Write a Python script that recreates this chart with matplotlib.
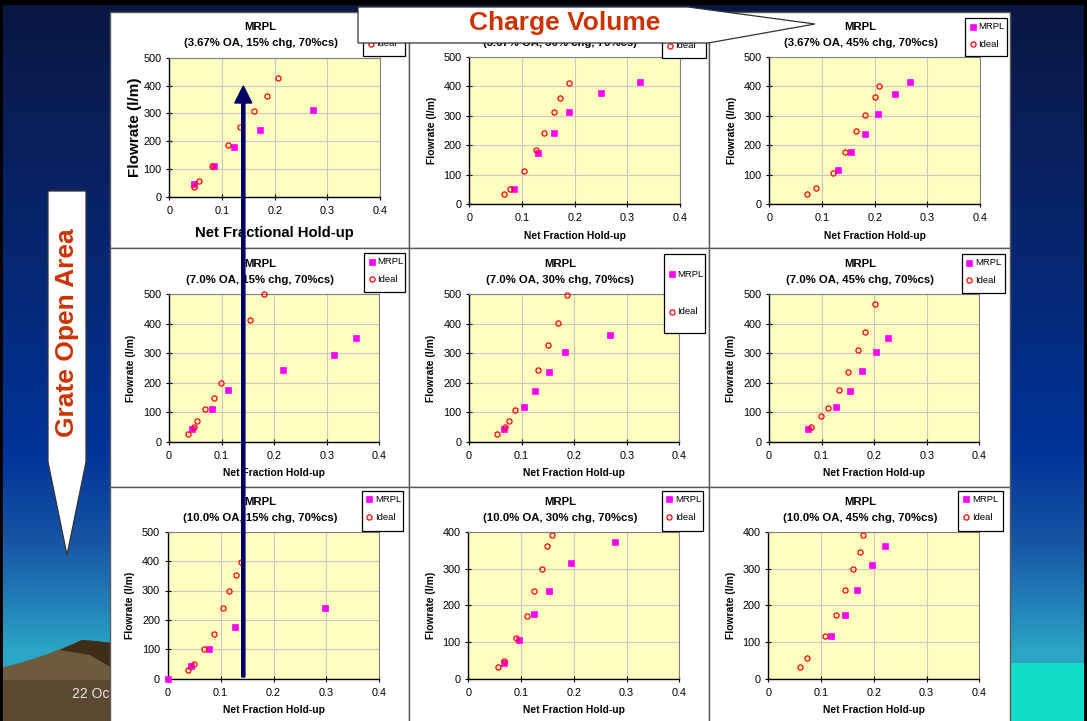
import numpy as np
import matplotlib
matplotlib.use("Agg")
import matplotlib.pyplot as plt
from matplotlib.patches import Rectangle, Polygon, FancyArrow

plt.rcParams['font.family'] = ['Liberation Sans', 'DejaVu Sans']

W, H = 1087, 721

# ---------------- data ----------------
oa_levels = ['3.67% OA', '7.0% OA', '10.0% OA']
chg_levels = ['15% chg', '30% chg', '45% chg']
cs_level = '70%cs'
series_names = ['MRPL', 'Ideal']

x_ticks = [0, 0.1, 0.2, 0.3, 0.4]
x_tick_labels = ['0', '0.1', '0.2', '0.3', '0.4']
y_max = [[500, 500, 500], [500, 500, 500], [500, 400, 400]]

# 3.67% OA
mrpl_x_11 = [0.047, 0.085, 0.123, 0.172, 0.273]
mrpl_y_11 = [46, 110, 181, 242, 311]
ideal_x_11 = [0.047, 0.057, 0.082, 0.111, 0.135, 0.161, 0.185, 0.206]
ideal_y_11 = [36, 56, 110, 187, 251, 307, 361, 426]

mrpl_x_12 = [0.084, 0.130, 0.160, 0.190, 0.250, 0.325]
mrpl_y_12 = [52, 175, 243, 313, 378, 413]
ideal_x_12 = [0.066, 0.078, 0.103, 0.127, 0.142, 0.160, 0.173, 0.190]
ideal_y_12 = [34, 52, 113, 183, 243, 312, 359, 411]

mrpl_x_13 = [0.130, 0.155, 0.182, 0.207, 0.239, 0.267]
mrpl_y_13 = [115, 178, 239, 306, 373, 413]
ideal_x_13 = [0.071, 0.089, 0.120, 0.144, 0.164, 0.182, 0.201, 0.208]
ideal_y_13 = [34, 56, 106, 178, 248, 303, 362, 400]

# 7.0% OA
mrpl_x_21 = [0.044, 0.081, 0.112, 0.217, 0.314, 0.355]
mrpl_y_21 = [43, 110, 175, 243, 293, 353]
ideal_x_21 = [0.036, 0.047, 0.054, 0.068, 0.085, 0.098, 0.154, 0.180]
ideal_y_21 = [27, 50, 69, 110, 148, 199, 414, 500]

mrpl_x_22 = [0.067, 0.104, 0.126, 0.152, 0.183, 0.268]
mrpl_y_22 = [43, 117, 173, 236, 304, 361]
ideal_x_22 = [0.053, 0.068, 0.077, 0.088, 0.132, 0.150, 0.170, 0.186]
ideal_y_22 = [27, 50, 71, 108, 243, 327, 403, 498]

mrpl_x_23 = [0.075, 0.127, 0.155, 0.177, 0.204, 0.227]
mrpl_y_23 = [43, 119, 173, 240, 303, 351]
ideal_x_23 = [0.080, 0.099, 0.113, 0.134, 0.150, 0.170, 0.183, 0.202]
ideal_y_23 = [50, 87, 115, 177, 236, 312, 372, 468]

# 10.0% OA
mrpl_x_31 = [0.0, 0.044, 0.079, 0.127, 0.297]
mrpl_y_31 = [0, 43, 102, 176, 239]
ideal_x_31 = [0.038, 0.049, 0.069, 0.088, 0.104, 0.116, 0.129, 0.139]
ideal_y_31 = [30, 49, 102, 153, 239, 297, 354, 398]

mrpl_x_32 = [0.067, 0.096, 0.125, 0.153, 0.194, 0.279]
mrpl_y_32 = [43, 106, 176, 240, 316, 373]
ideal_x_32 = [0.056, 0.068, 0.091, 0.111, 0.125, 0.139, 0.149, 0.158]
ideal_y_32 = [31, 49, 111, 172, 238, 298, 362, 391]

mrpl_x_33 = [0.118, 0.146, 0.169, 0.196, 0.222]
mrpl_y_33 = [117, 174, 243, 309, 363]
ideal_x_33 = [0.060, 0.073, 0.107, 0.128, 0.145, 0.160, 0.173, 0.180]
ideal_y_33 = [31, 57, 116, 174, 243, 298, 345, 393]

mrpl_x = [[mrpl_x_11, mrpl_x_12, mrpl_x_13], [mrpl_x_21, mrpl_x_22, mrpl_x_23], [mrpl_x_31, mrpl_x_32, mrpl_x_33]]
mrpl_y = [[mrpl_y_11, mrpl_y_12, mrpl_y_13], [mrpl_y_21, mrpl_y_22, mrpl_y_23], [mrpl_y_31, mrpl_y_32, mrpl_y_33]]
ideal_x = [[ideal_x_11, ideal_x_12, ideal_x_13], [ideal_x_21, ideal_x_22, ideal_x_23], [ideal_x_31, ideal_x_32, ideal_x_33]]
ideal_y = [[ideal_y_11, ideal_y_12, ideal_y_13], [ideal_y_21, ideal_y_22, ideal_y_23], [ideal_y_31, ideal_y_32, ideal_y_33]]

# ---------------- layout (pixels, y measured from the top) ----------------
panel_cols = [(110, 409), (409, 709), (709, 1010)]
panel_rows = [(12, 248), (248, 487), (487, 730)]
plot_boxes = [
    [(169.3, 57.7, 380.0, 197.0), (469.3, 56.7, 680.0, 204.3), (769.3, 56.7, 980.0, 204.3)],
    [(169.0, 294.3, 379.3, 441.7), (469.0, 294.3, 679.3, 441.7), (769.0, 294.3, 979.3, 441.7)],
    [(167.7, 531.7, 379.3, 678.7), (468.3, 532.0, 679.3, 678.7), (768.3, 532.0, 979.3, 678.7)],
]
title_rows = [(26.7, 43.3), (264.0, 280.3), (501.7, 518.3)]
legend_boxes = [
    [(363.0, 18.0, 405.0, 56.0), (662.0, 20.0, 706.0, 58.0), (965.0, 18.3, 1006.7, 56.0)],
    [(364.0, 253.3, 405.3, 292.3), (664.0, 254.3, 705.0, 333.3), (961.7, 254.3, 1005.0, 293.3)],
    [(361.7, 491.0, 403.3, 531.0), (661.7, 491.0, 703.3, 531.0), (958.3, 491.0, 1003.3, 531.0)],
]

MAGENTA = '#ff00ff'
RED = '#ff0000'
ORANGE = '#cc3300'


def fx(x):
    return x / W


def fy(y):
    return 1 - y / H


fig = plt.figure(figsize=(W / 100, H / 100), dpi=100)

# ---------------- slide background ----------------
bg = fig.add_axes([0, 0, 1, 1], zorder=-5)
bg.set_xlim(0, W)
bg.set_ylim(H, 0)
bg.axis('off')

stop_y = [0, 120, 300, 450, 540, 605, 650, 721]
stop_c = ['#081640', '#0a1e58', '#05297a', '#003399', '#1654a4', '#2282b8', '#2aa6c4', '#2ab0c8']
rgb = np.array([matplotlib.colors.to_rgb(c) for c in stop_c])
rows = np.arange(H) + 0.5
grad = np.stack([np.interp(rows, stop_y, rgb[:, k]) for k in range(3)], axis=1)
bg.imshow(grad[:, None, :], extent=[0, W, H, 0], aspect='auto', zorder=0)

# cyan band at lower right
bg.add_patch(Rectangle((1008, 663), 80, 60, fc='#12dcc8', ec='none', zorder=1))
# hills at lower left
bg.add_patch(Polygon([(0, 668), (20, 663), (45, 655), (70, 645), (82, 640), (95, 641),
                      (112, 643), (112, 721), (0, 721)], closed=True, fc='#6e5a3c', ec='none', zorder=1))
bg.add_patch(Polygon([(60, 650), (82, 640), (95, 641), (112, 643), (112, 668), (90, 655)],
                     closed=True, fc='#3e2e18', ec='none', zorder=1))
bg.add_patch(Rectangle((0, 680), 112, 41, fc='#5a4830', ec='none', zorder=1))
bg.text(72, 694, '22 Oct', color='#e6e6e6', fontsize=10, va='center', ha='left', zorder=2)

# black slide frame
bg.add_patch(Rectangle((0, 0), W, 5, fc='black', ec='none', zorder=2))
bg.add_patch(Rectangle((0, 0), 3, H, fc='black', ec='none', zorder=2))
bg.add_patch(Rectangle((1084, 0), 3, H, fc='black', ec='none', zorder=2))

# white chart panels
for (r0, r1) in panel_rows:
    for (c0, c1) in panel_cols:
        bg.add_patch(Rectangle((c0, r0), c1 - c0, r1 - r0, fc='white', ec='#5a5a5a',
                               lw=1.0, zorder=3))

# ---------------- the nine charts ----------------
for r in range(3):
    for c in range(3):
        x0, y0, x1, y1 = plot_boxes[r][c]
        ax = fig.add_axes([fx(x0), fy(y1), fx(x1 - x0), (y1 - y0) / H], zorder=1)
        ax.set_facecolor('#ffffc0')
        ax.plot(mrpl_x[r][c], mrpl_y[r][c], ls='none', marker='s', ms=4.0,
                mfc=MAGENTA, mec=MAGENTA, mew=0.5, clip_on=False, zorder=3)
        ax.plot(ideal_x[r][c], ideal_y[r][c], ls='none', marker='o', ms=3.7,
                mfc='none', mec=RED, mew=0.9, clip_on=False, zorder=4)
        ax.set_xlim(0, 0.4)
        ax.set_ylim(0, y_max[r][c])
        ax.set_xticks(x_ticks)
        ax.set_xticklabels(x_tick_labels)
        ax.set_yticks(list(range(0, y_max[r][c] + 1, 100)))
        ax.grid(True, color='#c8c8c8', lw=0.8)
        ax.set_axisbelow(True)
        for s in ('top', 'right'):
            ax.spines[s].set_color('#808080')
            ax.spines[s].set_linewidth(0.8)
        for s in ('left', 'bottom'):
            ax.spines[s].set_color('black')
            ax.spines[s].set_linewidth(1.0)
        ax.tick_params(axis='both', direction='inout', length=4, width=0.8,
                       labelsize=7.8, colors='black')
        ax.tick_params(axis='y', pad=3.5)
        ax.tick_params(axis='x', pad=4.5)

        big = (r == 0 and c == 0)
        if big:
            ax.set_xlabel('Net Fractional Hold-up', fontsize=10.7, fontweight='bold', va='center')
            ax.set_ylabel('Flowrate (l/m)', fontsize=11, fontweight='bold', va='center')
            xl_y, yl_x = 232.7, 135.0
        else:
            ax.set_xlabel('Net Fraction Hold-up', fontsize=7.4, fontweight='bold', va='center')
            ax.set_ylabel('Flowrate (l/m)', fontsize=7.4, fontweight='bold', va='center')
            xl_y, yl_x = y1 + 31.5, x0 - 37.5
        ax.xaxis.set_label_coords(0.5, -(xl_y - y1) / (y1 - y0))
        ax.yaxis.set_label_coords(-(x0 - yl_x) / (x1 - x0), 0.5)

        # chart title
        cx = (panel_cols[c][0] + panel_cols[c][1]) / 2 + 1
        t1, t2 = title_rows[r]
        fig.text(fx(cx), fy(t1), 'MRPL', fontsize=8.2, fontweight='bold',
                 ha='center', va='center', zorder=2)
        fig.text(fx(cx), fy(t2), f'({oa_levels[r]}, {chg_levels[c]}, {cs_level})',
                 fontsize=8.2, fontweight='bold', ha='center', va='center', zorder=2)

# ---------------- legends ----------------
leg = fig.add_axes([0, 0, 1, 1], zorder=5)
leg.set_xlim(0, W)
leg.set_ylim(H, 0)
leg.axis('off')
for r in range(3):
    for c in range(3):
        lx0, ly0, lx1, ly1 = legend_boxes[r][c]
        leg.add_patch(Rectangle((lx0, ly0), lx1 - lx0, ly1 - ly0, fc='white', ec='black', lw=0.9))
        if r == 1 and c == 1:
            ys = [ly0 + 20.0, ly0 + 57.4]
        else:
            ys = [ly0 + 8.4, ly0 + 26.0]
        mx = lx0 + 7.7
        leg.plot([mx], [ys[0]], ls='none', marker='s', ms=4.0, mfc=MAGENTA, mec=MAGENTA, mew=0.5)
        leg.plot([mx], [ys[1]], ls='none', marker='o', ms=3.7, mfc='none', mec=RED, mew=0.9)
        for yy, name in zip(ys, series_names):
            leg.text(lx0 + 13.5, yy, name, fontsize=6.8, ha='left', va='center')

# ---------------- annotations ----------------
ov = fig.add_axes([0, 0, 1, 1], zorder=10)
ov.set_xlim(0, W)
ov.set_ylim(H, 0)
ov.axis('off')

# horizontal callout
ov.add_patch(Polygon([(358, 7), (688, 7), (815, 24), (708, 43), (358, 43)], closed=True,
                     fc='white', ec='#333333', lw=0.9))
ov.text(565, 23, 'Charge Volume', color=ORANGE, fontsize=19, fontweight='bold',
        ha='center', va='center')

# vertical callout
ov.add_patch(Polygon([(48, 191), (86, 191), (86, 462), (67, 555), (48, 462)], closed=True,
                     fc='white', ec='#333333', lw=0.9))
ov.text(67, 333, 'Grate Open Area', color=ORANGE, fontsize=19, fontweight='bold',
        ha='center', va='center', rotation=90)

# navy arrow
ov.add_patch(FancyArrow(243.3, 677, 0, -591, width=3.2, head_width=17, head_length=17,
                        length_includes_head=True, fc='#000066', ec='#000066'))

fig.savefig('out.png', dpi=100)
